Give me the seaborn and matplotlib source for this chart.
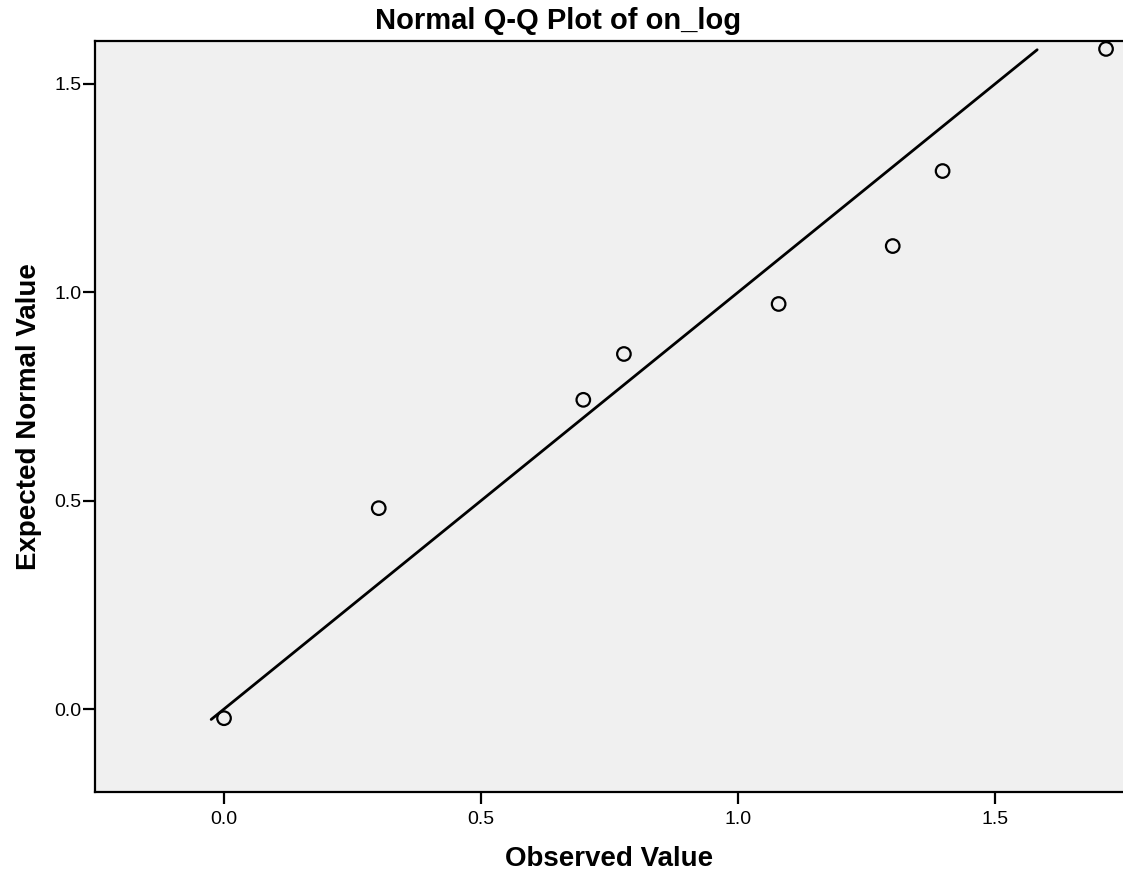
import numpy as np
import pandas as pd
import matplotlib
matplotlib.use("Agg")
import matplotlib.pyplot as plt
import seaborn as sns

# observed log values and their expected normal quantiles
observed = [0.0, 0.301, 0.699, 0.778, 1.079, 1.301, 1.398, 1.716]
expected = [-0.022, 0.482, 0.742, 0.852, 0.972, 1.111, 1.291, 1.584]
ref_line_x = [-0.025, 1.582]
ref_line_y = [-0.025, 1.582]
x_ticks = [0.0, 0.5, 1.0, 1.5]
y_ticks = [0.0, 0.5, 1.0, 1.5]

sns.set_style("white")
plt.rcParams["font.family"] = ["Liberation Sans", "DejaVu Sans"]
plt.rcParams["text.color"] = "black"
plt.rcParams["axes.labelcolor"] = "black"
plt.rcParams["xtick.color"] = "black"
plt.rcParams["ytick.color"] = "black"

fig = plt.figure(figsize=(11.23, 8.84), dpi=100)
ax = fig.add_axes([0.0846, 0.1041, 0.9154, 0.8495])
ax.set_facecolor("#F0F0F0")

pts = pd.DataFrame({"Observed": observed, "Expected": expected})
line = pd.DataFrame({"x": ref_line_x, "y": ref_line_y})

sns.lineplot(data=line, x="x", y="y", color="black", linewidth=2.0, ax=ax)
sns.scatterplot(data=pts, x="Observed", y="Expected", ax=ax, s=95,
                facecolor="none", edgecolor="black", linewidth=1.6, zorder=3)

ax.set_xlim(-0.251, 1.749)
ax.set_ylim(-0.199, 1.603)
ax.set_xticks(x_ticks)
ax.set_yticks(y_ticks)
ax.set_xticklabels([f"{t:.1f}" for t in x_ticks])
ax.set_yticklabels([f"{t:.1f}" for t in y_ticks])
ax.tick_params(axis="both", direction="out", length=8.5, width=1.6,
               labelsize=14, color="black", bottom=True, left=True)
ax.tick_params(axis="x", pad=5)
ax.tick_params(axis="y", pad=1)

for side in ["left", "bottom", "top"]:
    ax.spines[side].set_visible(True)
    ax.spines[side].set_color("black")
    ax.spines[side].set_linewidth(1.6)
ax.spines["right"].set_visible(False)

ax.set_xlabel("Observed Value", fontsize=20, fontweight="bold", labelpad=13)
ax.set_ylabel("Expected Normal Value", fontsize=20, fontweight="bold", labelpad=9)
fig.suptitle("Normal Q-Q Plot of on_log", fontsize=21, fontweight="bold",
             x=0.497, y=0.992, va="top")

fig.savefig("out.png", dpi=100)
